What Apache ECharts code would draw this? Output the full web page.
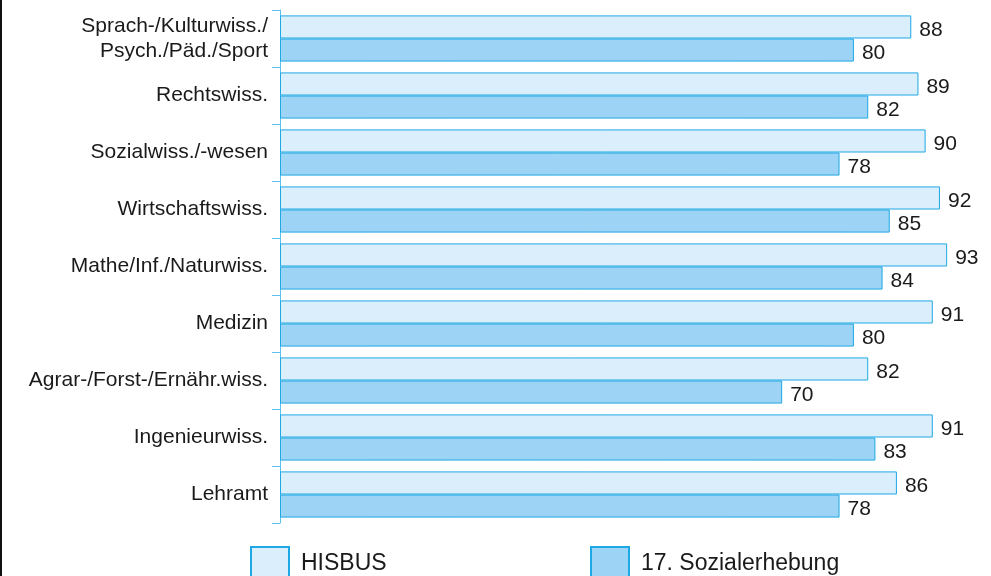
<!DOCTYPE html>
<html>
<head>
<meta charset="utf-8">
<script src="https://cdn.jsdelivr.net/npm/echarts@6/dist/echarts.min.js"></script>
<style>
  html, body { margin: 0; padding: 0; background: #fff; }
  #chart { width: 991px; height: 576px; }
</style>
</head>
<body>
<div id="chart"></div>
<script>
  // Fächergruppen, von oben nach unten
  const categories = [
    'Sprach-/Kulturwiss./\nPsych./Päd./Sport',
    'Rechtswiss.',
    'Sozialwiss./-wesen',
    'Wirtschaftswiss.',
    'Mathe/Inf./Naturwiss.',
    'Medizin',
    'Agrar-/Forst-/Ernähr.wiss.',
    'Ingenieurwiss.',
    'Lehramt'
  ];
  const hisbus = [88, 89, 90, 92, 93, 91, 82, 91, 86];
  const sozialerhebung = [80, 82, 78, 85, 84, 80, 70, 83, 78];
  const seriesNames = ['HISBUS', '17. Sozialerhebung'];

  const font = '"Liberation Sans", Arial, Helvetica, sans-serif';
  const borderCol = '#1ea8e4';
  const fills = ['#dbeefb', '#9dd3f4'];

  var myChart = echarts.init(document.getElementById('chart'));

  const valueLabel = {
    show: true,
    position: 'right',
    distance: 8,
    offset: [0, 3],
    fontFamily: font,
    fontSize: 21,
    color: '#1a1a1a'
  };

  const legendText = { fontFamily: font, fontSize: 23, color: '#1a1a1a', padding: [0, 0, 0, 7] };

  let option = {
    animation: false,
    graphic: [
      { type: 'rect', shape: { x: 0, y: 0, width: 2, height: 576 }, style: { fill: '#111' } }
    ],
    legend: [
      {
        data: [seriesNames[0]],
        left: 245, top: 541,
        icon: 'rect',
        itemWidth: 38, itemHeight: 34,
        textStyle: legendText
      },
      {
        data: [seriesNames[1]],
        left: 585, top: 541,
        icon: 'rect',
        itemWidth: 38, itemHeight: 34,
        textStyle: legendText
      }
    ],
    grid: {
      left: 280,
      right: 8,
      top: 10,
      bottom: 53,
      containLabel: false
    },
    xAxis: {
      type: 'value',
      min: 0,
      max: 98,
      show: false
    },
    yAxis: {
      type: 'category',
      inverse: true,
      data: categories,
      axisLine: { show: true, lineStyle: { color: '#5cc0ee', width: 1 } },
      axisTick: { show: true, length: 8, lineStyle: { color: '#5cc0ee' } },
      axisLabel: {
        margin: 12,
        fontFamily: font,
        fontSize: 21,
        lineHeight: 25,
        color: '#1a1a1a',
        align: 'right',
        padding: [4, 0, 0, 0]
      }
    },
    series: [
      {
        name: seriesNames[0],
        type: 'bar',
        data: hisbus,
        barGap: '0%',
        barCategoryGap: '19%',
        itemStyle: { color: fills[0], borderColor: borderCol, borderWidth: 1 },
        label: valueLabel
      },
      {
        name: seriesNames[1],
        type: 'bar',
        data: sozialerhebung,
        barGap: '0%',
        barCategoryGap: '19%',
        itemStyle: { color: fills[1], borderColor: borderCol, borderWidth: 1 },
        label: valueLabel
      }
    ]
  };
  myChart.setOption(option);
</script>
</body>
</html>
